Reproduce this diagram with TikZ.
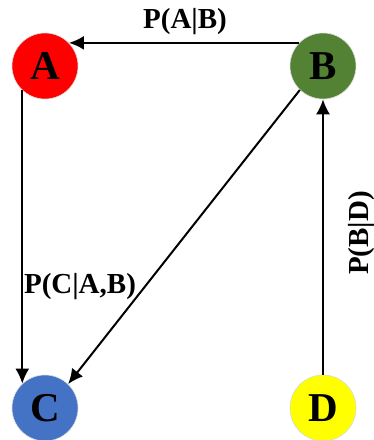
\documentclass[tikz,border=0pt]{standalone}
\usepackage{fontspec}
\setmainfont{Liberation Serif}
\usetikzlibrary{arrows.meta}
\definecolor{rougeA}{RGB}{255,0,0}
\definecolor{vertB}{RGB}{84,130,53}
\definecolor{bleuC}{RGB}{68,114,196}
\definecolor{jauneD}{RGB}{255,255,0}
\begin{document}
\begin{tikzpicture}[x=1pt,y=-1pt]
			% Styles
			\tikzstyle{noeud}=[circle,draw=black!15,line width=0.6pt,minimum size=66pt,inner sep=0pt,font=\fontsize{41}{43}\selectfont\bfseries]
			\tikzstyle{fleche}=[-{Latex[length=15pt,width=14pt]},line width=2pt]
			\tikzstyle{etiquette}=[font=\fontsize{29}{31}\selectfont\bfseries,inner sep=0pt]
			% Cadre
			\useasboundingbox (0,0) rectangle (374,440);
			% Noeuds
			\node[noeud,fill=rougeA] (A) at (45,66) {A};
			\node[noeud,fill=vertB] (B) at (323,66) {B};
			\node[noeud,fill=bleuC] (C) at (45,408) {C};
			\node[noeud,fill=jauneD] (D) at (323,408) {D};
			% Etiquettes
			\node[etiquette] (pab) at (185,22) {P(A|B)};
			\node[etiquette] (pcab) at (80,287) {P(C|A,B)};
			\node[etiquette,rotate=90] (pbd) at (362,233) {P(B|D)};
			% Arcs
			\draw[fleche] (B.136)--(A.44);
			\draw[fleche] (A.227)--(C.133);
			\draw[fleche] (B.226)--(C.46);
			\draw[fleche] (D.90)--(B.270);
		\end{tikzpicture}
\end{document}
